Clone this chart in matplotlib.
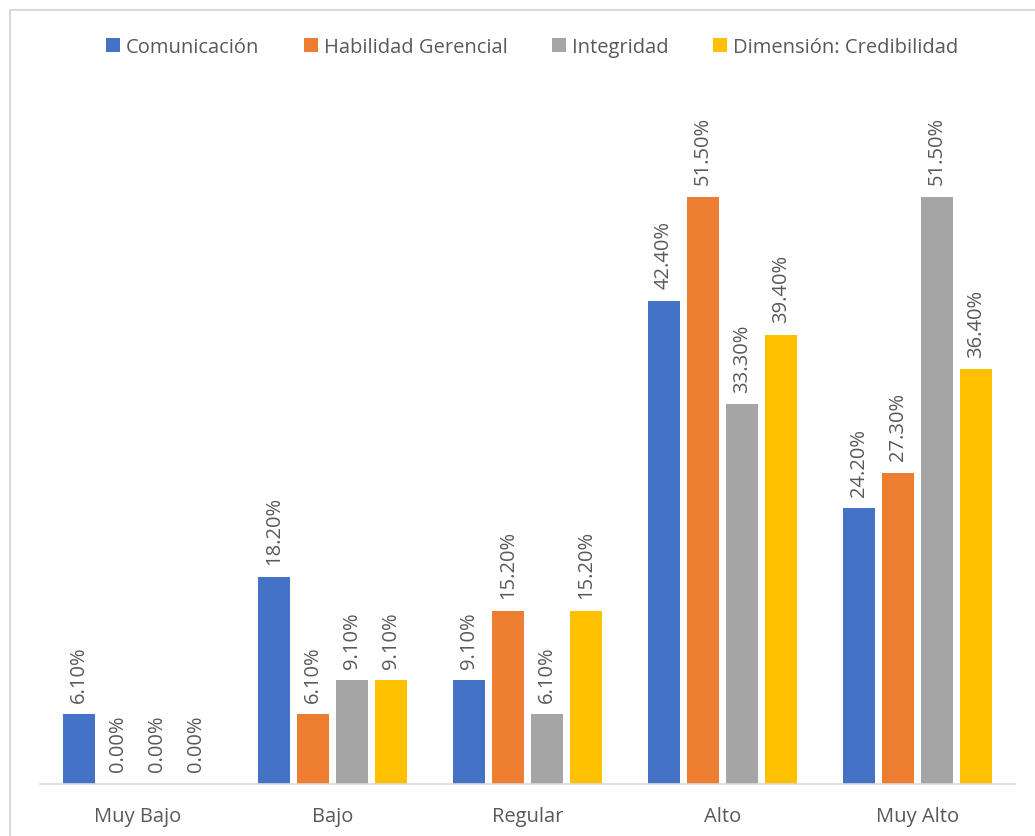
import numpy as np
import matplotlib.pyplot as plt
from matplotlib.patches import Rectangle

plt.rcParams['font.family'] = ['Open Sans', 'DejaVu Sans']

categorias = ['Muy Bajo', 'Bajo', 'Regular', 'Alto', 'Muy Alto']
series = ['Comunicación', 'Habilidad Gerencial', 'Integridad', 'Dimensión: Credibilidad']
comunicacion = [6.1, 18.2, 9.1, 42.4, 24.2]
habilidad = [0.0, 6.1, 15.2, 51.5, 27.3]
integridad = [0.0, 9.1, 6.1, 33.3, 51.5]
credibilidad = [0.0, 9.1, 15.2, 39.4, 36.4]
colores = ['#4472C4', '#ED7D31', '#A5A5A5', '#FFC000']
gris = '#595959'

fig = plt.figure(figsize=(10.35, 8.37), dpi=100)
ax = fig.add_axes([40 / 1035, 52 / 837, 975 / 1035, 684 / 837])

# marco del gráfico
fig.patches.append(Rectangle((10 / 1035, -0.1), 1.2, (837 - 11) / 837 + 0.1,
                             transform=fig.transFigure, fill=False,
                             edgecolor='#D9D9D9', linewidth=1.5))

x = np.arange(len(categorias))
paso = 0.2
ancho = 0.159
for i, (nombre, valores) in enumerate(zip(series, [comunicacion, habilidad, integridad, credibilidad])):
    pos = x + (i - 1.5) * paso
    ax.bar(pos, valores, width=ancho, color=colores[i], label=nombre, zorder=2)
    for xp, v in zip(pos, valores):
        ax.annotate(f'{v:.2f}%', (xp, v), xytext=(0, 9), textcoords='offset points',
                    rotation=90, ha='center', va='bottom', fontsize=14.5, color=gris)

ax.set_xlim(-0.5, 4.5)
ax.set_ylim(0, 60)
ax.set_xticks(x)
ax.set_xticklabels(categorias, fontsize=14.5, color=gris)
ax.tick_params(axis='x', length=0, pad=16)
ax.set_yticks([])
for s in ['top', 'right', 'left']:
    ax.spines[s].set_visible(False)
ax.spines['bottom'].set_color('#D9D9D9')
ax.spines['bottom'].set_linewidth(1.2)

fig.legend(loc='center', bbox_to_anchor=(532 / 1035, 1 - 48 / 837), ncol=4, frameon=False,
           fontsize=14.5, labelcolor=gris, handlelength=0.7, handleheight=0.7,
           handletextpad=0.3, columnspacing=2.2)

fig.savefig('out.png', dpi=100)
